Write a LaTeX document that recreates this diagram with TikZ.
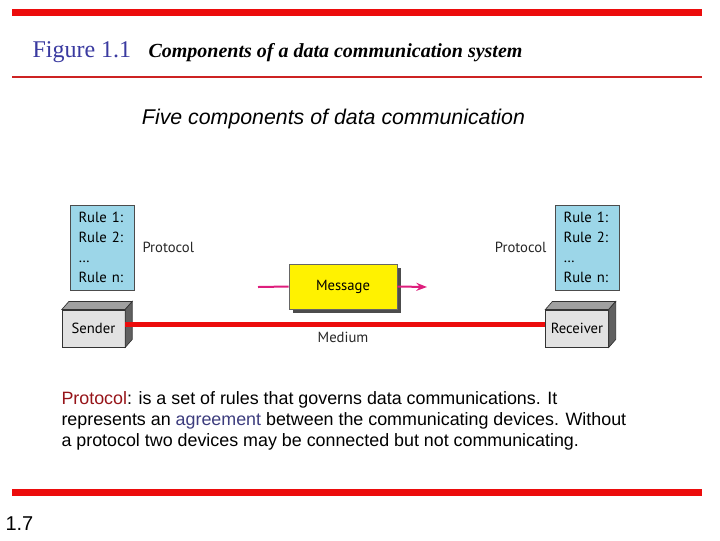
\documentclass[tikz,border=0pt]{standalone}
\usepackage{fontspec}
\setmainfont{Liberation Serif}
\setsansfont{Liberation Sans}
\newfontfamily\labelfont{PT Sans}
\usetikzlibrary{arrows.meta,positioning}

\definecolor{barred}{RGB}{236,12,12}
\definecolor{linered}{RGB}{205,35,35}
\definecolor{figblue}{RGB}{58,58,160}
\definecolor{ruleblue}{RGB}{156,214,232}
\definecolor{msgpink}{RGB}{222,30,125}
\definecolor{frontgray}{RGB}{226,226,226}
\definecolor{topgray}{RGB}{160,160,160}
\definecolor{sidegray}{RGB}{96,96,96}
\definecolor{protored}{RGB}{150,20,25}
\definecolor{agreeblue}{RGB}{60,60,125}

\tikzset{every picture/.style={line width=0.75pt},
  rulebox/.style={draw=black!70, fill=ruleblue, line width=0.5pt, minimum width=48pt, minimum height=64pt, text width=35pt, inner xsep=6.5pt, align=left, font=\labelfont\fontsize{11}{15}\selectfont},
  station/.style={draw=black!80, fill=frontgray, line width=0.5pt, minimum width=47pt, minimum height=28pt, font=\labelfont\fontsize{11}{12}\selectfont},
  lbl/.style={font=\labelfont\fontsize{11}{12}\selectfont, inner sep=0.75pt, text=black!85},
  msgarrow/.style={draw=msgpink, line width=1.5pt},
}

% top and right faces of a station box
\newcommand{\stationfaces}[1]{%
  \draw [fill=topgray, draw=black!80, line width=0.5pt] (#1.north west) -- ++(7,-8) -- ([shift={(7,-8)}]#1.north east) -- (#1.north east) -- cycle ;
  \draw [fill=sidegray, draw=black!80, line width=0.5pt] (#1.north east) -- ++(7,-8) -- ([shift={(7,-8)}]#1.south east) -- (#1.south east) -- cycle ;
}

\begin{document}
\begin{tikzpicture}[x=0.75pt,y=0.75pt,yscale=-1,xscale=1]
\useasboundingbox (0,0) rectangle (720,540);

%Shape: Rectangle [top bar]
\fill [barred] (12,9) rectangle (702,15.5) ;
%Straight Lines [title rule]
\draw [linered, line width=2.2pt] (12,77) -- (702,77) ;
%Shape: Rectangle [bottom bar]
\fill [barred] (12,489) rectangle (702,495.5) ;

% Text Node
\node [anchor=base west, inner sep=0pt, text=figblue, font=\fontsize{18}{20}\selectfont] (fignum) at (32,57) {Figure 1.1};
% Text Node
\node [anchor=base west, inner sep=0pt, font=\bfseries\itshape\fontsize{15}{17}\selectfont] (figtitle) at (148,57) {Components of a data communication system};
% Text Node
\node [anchor=base, inner sep=0pt, font=\sffamily\itshape\fontsize{16}{18}\selectfont] (subtitle) at (333.5,124) {Five components of data communication};

%Shape: Rule boxes
\node [rulebox] (lrules) at (102,247.5) {Rule 1:\\Rule 2:\\\dots\\Rule n:};
\node [rulebox] (rrules) at (587,247.5) {Rule 1:\\Rule 2:\\\dots\\Rule n:};
% Text Node
\node [lbl, right=5pt of lrules] (lproto) {Protocol};
% Text Node
\node [lbl, left=5pt of rrules] (rproto) {Protocol};

%Shape: Stations
\node [station] (sender) at (93.5,328.5) {Sender};
\stationfaces{sender}
\node [station] (receiver) at (577,328.5) {Receiver};
\stationfaces{receiver}

%Straight Lines [medium]
\draw [barred, line width=3.8pt] ([yshift=-3pt]sender.east) -- ([yshift=-3pt]receiver.west) ;
% Text Node
\node [lbl] (medium) at (343,337.5) {Medium};

%Shape: Message with shadow
\fill [black!70] (293,268) rectangle (401,313) ;
\node [draw=black!60, fill=yellow, line width=0.5pt, minimum width=81pt, minimum height=33.75pt, font=\labelfont\fontsize{11}{12}\selectfont] (message) at (343,286.5) {Message};
\coordinate (msgin) at (258,287);
\coordinate (msgout) at (427,287);
\draw [msgarrow] (msgin) -- (message.west) ;
\draw [msgarrow, -{Stealth[length=8pt,width=6pt]}] (message.east) -- (msgout) ;

% Text Node
\node [anchor=north west, inner sep=0pt, align=left, font=\sffamily\fontsize{13.4}{15.75}\selectfont] (note) at (61,391) {\textcolor{protored}{Protocol}: is a set of rules that governs data communications. It\\represents an \textcolor{agreeblue}{agreement} between the communicating devices. Without\\a protocol two devices may be connected but not communicating.};
% Text Node
\node [anchor=base west, inner sep=0pt, font=\sffamily\fontsize{15}{18}\selectfont] (pagenum) at (5,530) {1.7};

\end{tikzpicture}
\end{document}
